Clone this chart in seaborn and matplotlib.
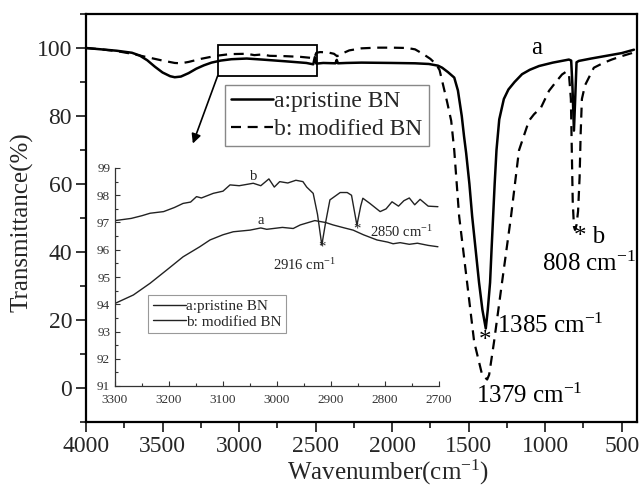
import numpy as np
import pandas as pd
import matplotlib
matplotlib.use('Agg')
import matplotlib.pyplot as plt
from matplotlib.patches import Rectangle
from matplotlib.ticker import MultipleLocator
import seaborn as sns

# main spectra (wavenumber in cm-1, transmittance in %)
wn_a = [4000, 3900, 3800, 3700, 3650, 3600, 3550, 3500, 3450, 3420, 3380, 3330, 3280, 3230, 3180,
        3120, 3050, 2950, 2850, 2700, 2560, 2515, 2505, 2495, 2450, 2370, 2362, 2354, 2300, 2200,
        2000, 1850, 1760, 1700, 1673, 1635, 1594, 1570, 1545, 1530, 1516, 1495, 1477, 1455, 1432,
        1410, 1388, 1375, 1360, 1350, 1340, 1330, 1318, 1300, 1270, 1240, 1200, 1151, 1100, 1040,
        950, 880, 845, 830, 822, 812, 803, 795, 780, 700, 600, 500, 420]
t_a = [100, 99.6, 99.2, 98.6, 97.8, 96.4, 94.5, 92.8, 91.7, 91.4, 91.6, 92.6, 93.9, 94.9, 95.7,
       96.3, 96.7, 96.9, 96.6, 96.1, 95.6, 95.2, 97.3, 95.4, 95.6, 95.5, 96.5, 95.5, 95.6, 95.7,
       95.6, 95.5, 95.3, 94.8, 94.2, 92.9, 91.3, 87.5, 80, 74, 69, 60, 50.5, 41, 31,
       23, 17.5, 23, 31, 41, 50.5, 60, 70, 79, 85, 87.8, 90, 92.3, 93.6, 94.7,
       95.7, 96.3, 96.6, 96.3, 89, 75.7, 86, 95.8, 96.2, 96.9, 97.7, 98.5, 99.5]

wn_b = [4000, 3900, 3800, 3700, 3600, 3500, 3420, 3380, 3330, 3250, 3150, 3060, 2950, 2900, 2850,
        2800, 2700, 2600, 2530, 2510, 2495, 2470, 2420, 2380, 2360, 2345, 2320, 2280, 2200, 2100,
        2000, 1900, 1850, 1800, 1750, 1712, 1690, 1673, 1640, 1614, 1594, 1562, 1510, 1464, 1412,
        1379, 1366, 1334, 1282, 1223, 1171, 1106, 1073, 1027, 975, 930, 890, 864, 845, 832,
        826, 820, 812, 805, 795, 785, 775, 768, 760, 740, 682, 620, 565, 500, 434, 410]
t_b = [100, 99.6, 99.1, 98.3, 97.3, 96.3, 95.6, 95.5, 95.9, 96.8, 97.7, 98.2, 98.3, 97.9, 98.1,
       97.7, 97.6, 97.4, 97.1, 97.0, 98.6, 98.8, 98.7, 98.3, 97.6, 97.9, 98.5, 99.3, 99.9, 100.1,
       100.1, 100, 99.6, 98.3, 96.8, 95.2, 93.5, 90.3, 84, 78.6, 69.9, 50.5, 31, 13.6, 3.9,
       2.5, 3.9, 13.6, 31, 50.5, 69.9, 78.6, 80.5, 82.5, 87.4, 90, 92.2, 93, 92.5, 85,
       70, 55, 47.5, 46.5, 48, 52, 62, 75, 85, 89, 94.2, 95.6, 96.6, 97.6, 98.5, 99]

# inset (3300-2700 cm-1)
wn_ia = [3300, 3266, 3235, 3204, 3174, 3143, 3124, 3100, 3081, 3050, 3030, 3019, 2990, 2970,
         2957, 2930, 2910, 2896, 2875, 2859, 2840, 2815, 2795, 2785, 2772, 2755, 2740, 2720, 2702]
t_ia = [94.03, 94.34, 94.77, 95.26, 95.74, 96.11, 96.36, 96.55, 96.66, 96.72, 96.8, 96.75, 96.82, 96.78,
        96.91, 97.07, 97.0, 96.91, 96.8, 96.72, 96.55, 96.36, 96.28, 96.22, 96.26, 96.2, 96.24, 96.16, 96.11]

wn_ib = [3300, 3270, 3250, 3235, 3210, 3190, 3174, 3160, 3149, 3140, 3118, 3100, 3087, 3070, 3044,
         3030, 3015, 3005, 2995, 2980, 2965, 2952, 2945, 2933, 2925, 2917, 2910, 2902, 2890, 2883,
         2870, 2862, 2852, 2845, 2841, 2828, 2809, 2798, 2787, 2775, 2765, 2755, 2745, 2735, 2720, 2702]
t_ib = [97.07, 97.15, 97.25, 97.34, 97.4, 97.55, 97.7, 97.75, 97.95, 97.9, 98.07, 98.15, 98.38, 98.35, 98.44,
        98.35, 98.6, 98.3, 98.5, 98.45, 98.55, 98.5, 98.3, 98.07, 97.3, 96.17, 97.0, 97.83, 98.0, 98.1,
        98.1, 98.0, 96.9, 97.6, 97.89, 97.7, 97.4, 97.5, 97.76, 97.6, 97.8, 97.9, 97.65, 97.85, 97.6, 97.58]

main_labels = ['a:pristine BN', 'b: modified BN']

sns.set_theme(style='ticks')
plt.rcParams['font.family'] = ['Liberation Serif', 'DejaVu Serif']
plt.rcParams['mathtext.fontset'] = 'custom'
plt.rcParams['mathtext.rm'] = 'Liberation Serif'
plt.rcParams['mathtext.it'] = 'Liberation Serif'

fig = plt.figure(figsize=(6.42, 4.96), dpi=100)
ax = fig.add_axes([86 / 642, 1 - 422 / 496, 551 / 642, 408 / 496])

df_a = pd.DataFrame({'wn': wn_a, 't': t_a})
df_b = pd.DataFrame({'wn': wn_b, 't': t_b})
sns.lineplot(data=df_a, x='wn', y='t', ax=ax, color='black', lw=1.8, sort=False,
             estimator=None, label=main_labels[0])
sns.lineplot(data=df_b, x='wn', y='t', ax=ax, color='black', lw=1.6, sort=False,
             estimator=None, label=main_labels[1], linestyle=(0, (4.5, 3)))

ax.set_xlim(4000, 400)
ax.set_ylim(-10, 110)
ax.xaxis.set_major_locator(MultipleLocator(500))
ax.xaxis.set_minor_locator(MultipleLocator(250))
ax.yaxis.set_major_locator(MultipleLocator(20))
ax.yaxis.set_minor_locator(MultipleLocator(10))
ax.tick_params(which='both', direction='out', top=False, right=False, width=1.3, labelsize=17)
ax.tick_params(which='major', length=7, pad=3)
ax.tick_params(which='minor', length=4)
for s in ax.spines.values():
    s.set_linewidth(1.6)
    s.set_color('black')

ax.set_xlabel(r'Wavenumber(cm$^{\mathregular{-1}}$)', fontsize=18)
ax.set_ylabel('Transmittance(%)', fontsize=18)
ax.xaxis.set_label_coords(0.548, -0.088)
ax.yaxis.set_label_coords(-0.095, 0.49)

leg = ax.legend(loc='upper left', bbox_to_anchor=(0.252, 0.826), borderaxespad=0,
                fontsize=17, handlelength=1.8, handletextpad=0.05, labelspacing=0.25,
                borderpad=0.25, fancybox=False, framealpha=1)
leg.get_frame().set_edgecolor('#888888')
leg.get_frame().set_linewidth(1.0)

# zoom box and arrow
ax.add_patch(Rectangle((2488, 91.8), 3140 - 2488, 101 - 91.8, fill=False, lw=1.3, ec='black'))
ax.annotate('', xy=(3302, 71.9), xytext=(3140, 91.8),
            arrowprops=dict(arrowstyle='-|>', color='black', lw=1.2, mutation_scale=14,
                            shrinkA=0, shrinkB=0))

txt = dict(fontsize=18, color='black')
ax.text(1053, 100, 'a', ha='center', va='center', **txt)
ax.text(812, 44.3, '* b', ha='left', va='center', **txt)
ax.text(1021, 36.4, r'808 cm$^{\mathregular{-1}}$', ha='left', va='center', **txt)
ax.text(1314, 18.4, r'1385 cm$^{\mathregular{-1}}$', ha='left', va='center', **txt)
ax.text(1392, 13.8, '*', ha='center', va='center', **txt)
ax.text(1451, -2.3, r'1379 cm$^{\mathregular{-1}}$', ha='left', va='center', **txt)

# inset
axi = fig.add_axes([115 / 642, 1 - 386 / 496, 324 / 642, 218 / 496])
axi.patch.set_alpha(0)
di_a = pd.DataFrame({'wn': wn_ia, 't': t_ia})
di_b = pd.DataFrame({'wn': wn_ib, 't': t_ib})
sns.lineplot(data=di_a, x='wn', y='t', ax=axi, color='#222222', lw=1.0, sort=False,
             estimator=None, label=main_labels[0])
sns.lineplot(data=di_b, x='wn', y='t', ax=axi, color='#222222', lw=1.0, sort=False,
             estimator=None, label=main_labels[1])
axi.set_xlim(3300, 2700)
axi.set_ylim(91, 99)
axi.set_xlabel('')
axi.set_ylabel('')
axi.xaxis.set_major_locator(MultipleLocator(100))
axi.xaxis.set_minor_locator(MultipleLocator(50))
axi.yaxis.set_major_locator(MultipleLocator(1))
axi.yaxis.set_minor_locator(MultipleLocator(0.5))
axi.tick_params(which='both', direction='in', width=0.8, labelsize=9.5, colors='#333333')
axi.tick_params(which='major', length=3.5)
axi.tick_params(which='minor', length=2)
axi.tick_params(axis='x', which='major', pad=5.5)
axi.tick_params(axis='y', which='major', pad=3.5)
axi.spines['top'].set_visible(False)
axi.spines['right'].set_visible(False)
for s in ['left', 'bottom']:
    axi.spines[s].set_linewidth(0.9)
    axi.spines[s].set_color('#333333')

ileg = axi.legend(loc='upper left', bbox_to_anchor=(0.102, 0.417), borderaxespad=0,
                  fontsize=11, handlelength=2.2, handletextpad=0.0, labelspacing=0.1,
                  borderpad=0.3, fancybox=False, framealpha=1)
ileg.get_frame().set_edgecolor('#999999')
ileg.get_frame().set_linewidth(0.8)

itxt = dict(fontsize=10.5, color='#222222')
axi.text(3044, 98.68, 'b', ha='center', va='center', **itxt)
axi.text(3031, 96.85, 'a', ha='center', va='bottom', **itxt)
axi.text(2917, 96.1, '*', ha='center', va='center', **itxt)
axi.text(2948, 95.45, r'2916 cm$^{\mathregular{-1}}$', ha='center', va='center', **itxt)
axi.text(2852, 96.75, '*', ha='center', va='center', **itxt)
axi.text(2770, 96.66, r'2850 cm$^{\mathregular{-1}}$', ha='center', va='center', **itxt)

fig.savefig('out.png', dpi=100)
